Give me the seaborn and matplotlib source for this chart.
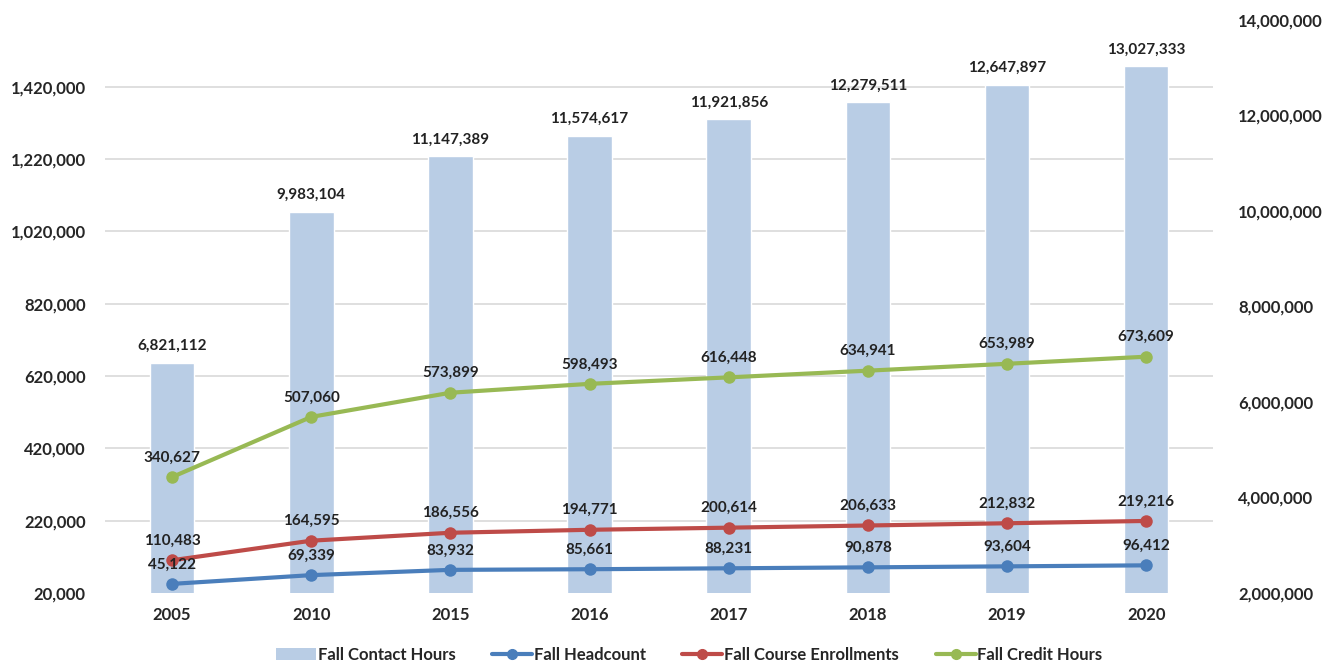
import numpy as np
import pandas as pd
import matplotlib
matplotlib.use("Agg")
import matplotlib.pyplot as plt
from matplotlib.lines import Line2D
from matplotlib.patches import Patch
from matplotlib.ticker import FuncFormatter, FixedLocator
import seaborn as sns

years = ["2005", "2010", "2015", "2016", "2017", "2018", "2019", "2020"]
contact_hours = [6821112, 9983104, 11147389, 11574617, 11921856, 12279511, 12647897, 13027333]
headcount = [45122, 69339, 83932, 85661, 88231, 90878, 93604, 96412]
enrollments = [110483, 164595, 186556, 194771, 200614, 206633, 212832, 219216]
credit_hours = [340627, 507060, 573899, 598493, 616448, 634941, 653989, 673609]
left_ticks = [20000, 220000, 420000, 620000, 820000, 1020000, 1220000, 1420000]
right_ticks = [2000000, 4000000, 6000000, 8000000, 10000000, 12000000, 14000000]

sns.set_theme(style="white")
plt.rcParams["font.family"] = ["Lato", "DejaVu Sans"]

BAR = "#B9CDE5"
BLUE = "#4A7EBB"
RED = "#BE4B48"
GREEN = "#98B954"

df = pd.DataFrame({"Year": years, "pos": np.arange(len(years)),
                   "Contact": contact_hours, "Headcount": headcount,
                   "Enroll": enrollments, "Credit": credit_hours})

fig = plt.figure(figsize=(13.33, 6.67), dpi=100)
ax = fig.add_axes([0.079, 0.111, 0.831, 0.859])
ax2 = ax.twinx()

# bars on right axis (drawn underneath)
sns.barplot(data=df, x="pos", y="Contact", color=BAR, width=0.32, ax=ax2,
            saturation=1, native_scale=True)
ax2.set_ylim(right_ticks[0], right_ticks[-1])
left_lim = (20000, 1605000)
ax.set_ylim(*left_lim)

for x, v in zip(df["pos"], contact_hours):
    ax2.annotate(f"{v:,}", (x, v), xytext=(0, 7), textcoords="offset points",
                 ha="center", va="bottom", fontsize=11, fontweight="bold", color="#222222")

# lines on left axis
for col, color in [("Headcount", BLUE), ("Enroll", RED), ("Credit", GREEN)]:
    sns.lineplot(data=df, x="pos", y=col, color=color, linewidth=3, marker="o",
                 markersize=9, markeredgewidth=0, ax=ax, legend=False)
    for x, v in zip(df["pos"], df[col]):
        ax.annotate(f"{v:,}", (x, v), xytext=(0, 9), textcoords="offset points",
                    ha="center", va="bottom", fontsize=11, fontweight="bold", color="#222222")

ax.set_zorder(ax2.get_zorder() + 1)
ax.patch.set_visible(False)

# left ticks
ax.set_yticks(left_ticks)
ax.yaxis.set_major_formatter(FuncFormatter(lambda v, p: f"{int(v):,}"))
ax.tick_params(axis="y", length=0, pad=14, labelsize=12)
for t in ax.get_yticklabels():
    t.set_fontweight("bold")

# right ticks
ax2.set_yticks(right_ticks)
ax2.yaxis.set_major_formatter(FuncFormatter(lambda v, p: f"{int(v):,}"))
ax2.tick_params(axis="y", length=0, pad=18, labelsize=12)
for t in ax2.get_yticklabels():
    t.set_fontweight("bold")

# gridlines behind bars at left tick values, mapped to right scale
r0, r1 = ax2.get_ylim()
l0, l1 = left_lim
grid_pos = [r0 + (v - l0) * (r1 - r0) / (l1 - l0) for v in left_ticks]
ax2.yaxis.set_minor_locator(FixedLocator(grid_pos))
ax2.tick_params(axis="y", which="minor", length=0)
ax2.grid(True, which="minor", axis="y", color="#D9D9D9", linewidth=1.2)
ax2.grid(False, which="major")
ax.grid(False)

ax.set_xlim(-0.48, len(years) - 0.52)
ax.set_xticks(df["pos"])
ax.set_xticklabels(years, fontsize=12, fontweight="bold")
ax.tick_params(axis="x", length=0, pad=10)
ax.set_xlabel("")
ax.set_ylabel("")
ax2.set_xlabel("")
ax2.set_ylabel("")
for a in (ax, ax2):
    for s in a.spines.values():
        s.set_visible(False)

handles = [Patch(facecolor=BAR, edgecolor="none"),
           Line2D([0], [0], color=BLUE, lw=3, marker="o", markersize=7),
           Line2D([0], [0], color=RED, lw=3, marker="o", markersize=7),
           Line2D([0], [0], color=GREEN, lw=3, marker="o", markersize=7)]
labels = ["Fall Contact Hours", "Fall Headcount", "Fall Course Enrollments", "Fall Credit Hours"]
leg = fig.legend(handles, labels, loc="center", bbox_to_anchor=(0.517, 0.018), ncol=4,
                 frameon=False, handlelength=2.4, handletextpad=0.1,
                 columnspacing=2.2, prop={"weight": "bold", "size": 12})

fig.savefig("out.png", dpi=100, facecolor="white")
